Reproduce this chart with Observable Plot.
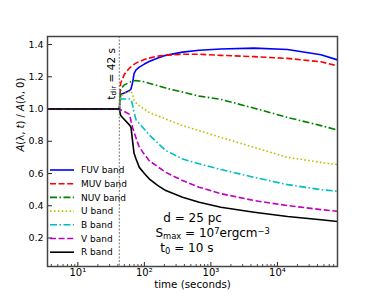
<!DOCTYPE html>
<html><head><meta charset="utf-8">
<script src="https://cdn.jsdelivr.net/npm/d3@7"></script>
<script src="https://cdn.jsdelivr.net/npm/@observablehq/plot@0.6"></script>
<style>body{margin:0;background:#fff;} svg{font-family:"DejaVu Sans",sans-serif;}</style>
</head><body><div id="chart"></div>
<script>
// ---- data ----
const times = [3.5, 42, 44, 50, 60, 63, 67, 70, 75, 84, 100, 118, 160, 210, 375, 667, 1410, 4480, 14200, 45100, 80000];
const fuv   = [1.0, 1.0, 1.09, 1.10, 1.115, 1.124, 1.17, 1.22, 1.243, 1.26, 1.279, 1.295, 1.316, 1.333, 1.353, 1.365, 1.372, 1.378, 1.369, 1.337, 1.305];
const muv   = [1.0, 1.0, 1.16, 1.215, 1.255, 1.262, 1.268, 1.277, 1.285, 1.295, 1.307, 1.316, 1.328, 1.334, 1.34, 1.34, 1.333, 1.325, 1.314, 1.293, 1.268];
const nuv   = [1.0, 1.0, 1.12, 1.15, 1.165, 1.17, 1.173, 1.175, 1.176, 1.174, 1.169, 1.16, 1.145, 1.13, 1.105, 1.08, 1.06, 1.005, 0.948, 0.897, 0.87];
const uBand = [1.0, 1.0, 1.08, 1.095, 1.108, 1.113, 1.085, 1.053, 1.038, 1.02, 1.0, 0.979, 0.957, 0.938, 0.897, 0.866, 0.824, 0.762, 0.70, 0.669, 0.655];
const bBand = [1.0, 1.0, 1.062, 1.062, 1.062, 1.06, 1.02, 0.98, 0.933, 0.91, 0.874, 0.84, 0.788, 0.742, 0.69, 0.66, 0.625, 0.576, 0.531, 0.50, 0.49];
const vBand = [1.0, 1.0, 0.995, 0.985, 0.967, 0.924, 0.88, 0.856, 0.82, 0.762, 0.72, 0.68, 0.641, 0.607, 0.556, 0.515, 0.475, 0.432, 0.401, 0.376, 0.366];
const rBand = [1.0, 1.0, 0.96, 0.935, 0.9, 0.886, 0.79, 0.725, 0.69, 0.638, 0.60, 0.567, 0.525, 0.494, 0.453, 0.422, 0.391, 0.36, 0.333, 0.313, 0.302];
const bands = ["FUV band", "MUV band", "NUV band", "U band", "B band", "V band", "R band"];
const tDir = 42;
const xMajor = [10, 100, 1000, 10000];
const xMinor = [4,5,6,7,8,9,20,30,40,50,60,70,80,90,200,300,400,500,600,700,800,900,2000,3000,4000,5000,6000,7000,8000,9000,20000,30000,40000,50000,60000,70000,80000];
const yTicks = [0.2, 0.4, 0.6, 0.8, 1.0, 1.2, 1.4];

// ---- styles ----
const colors = ["#0000ff", "#ff0000", "#008000", "#bfbf00", "#00bfbf", "#bf00bf", "#000000"];
const dashes = [null, "6,2.6", "7,2.4,1.6,2.4", "1.6,2.3", "7,2.4,1.6,2.4", "6,2.6", null];

const series = [fuv, muv, nuv, uBand, bBand, vBand, rBand];
const rows = bands.flatMap((b, i) => times.map((t, j) => ({band: b, t, v: series[i][j]})));

const W = 374, H = 299, mL = 47, mR = 37, mT = 36, mB = 33;
const fw = W - mL - mR, fh = H - mT - mB;
const sup = {1: "\u00b9", 2: "\u00b2", 3: "\u00b3", 4: "\u2074"};
const yLabel = "A(\u03bb, t) / A(\u03bb, 0)";

const chart = Plot.plot({
  width: W, height: H, marginLeft: mL, marginRight: mR, marginTop: mT, marginBottom: mB,
  style: {fontFamily: "DejaVu Sans", fontSize: "9.5px", background: "white", color: "black", overflow: "visible"},
  x: {type: "log", domain: [3.5, 80000]},
  y: {domain: [0.023, 1.45]},
  marks: [
    ...bands.map((b, i) => Plot.line(rows.filter(d => d.band === b), {
      x: "t", y: "v", stroke: colors[i], strokeWidth: 1.6,
      strokeDasharray: dashes[i] || undefined, strokeLinecap: "butt"
    })),
    Plot.ruleX([tDir], {stroke: "#777", strokeWidth: 1, strokeDasharray: "2,1.5"}),
    Plot.ruleX(xMajor, {insetTop: fh - 4, stroke: "#222", strokeWidth: 1}),
    Plot.ruleX(xMinor, {insetTop: fh - 2, stroke: "#222", strokeWidth: 0.8}),
    Plot.ruleY(yTicks, {insetRight: fw - 5, stroke: "#222", strokeWidth: 1}),
    Plot.axisX(xMajor, {tickSize: 0, tickPadding: 2, tickFormat: d => "10" + sup[Math.round(Math.log10(d))], label: null, fontSize: 10}),
    Plot.axisY(yTicks, {tickSize: 0, tickPadding: 4, tickFormat: d => d.toFixed(1), label: null, fontSize: 9.5}),
    Plot.text(["time (seconds)"], {frameAnchor: "bottom", dy: 21, text: d => d, fontSize: 10.3}),
    Plot.text([yLabel], {frameAnchor: "left", dx: -27, rotate: -90, text: d => d, fontSize: 10}),
    Plot.frame({stroke: "#444", strokeWidth: 1.5})
  ]
});
document.getElementById("chart").appendChild(chart);

const svg = d3.select(chart);
const sx = chart.scale("x"), sy = chart.scale("y");

// italic math letters in y label
svg.selectAll("text").filter(function() { return this.textContent === yLabel; }).each(function() {
  const t = d3.select(this);
  t.text(null);
  const parts = [["A", true], ["(\u03bb, ", false], ["t", true], [") / ", false], ["A", true], ["(\u03bb, 0)", false]];
  parts.forEach(([s, it]) => t.append("tspan").text(s).attr("font-style", it ? "italic" : null));
});

// legend
const lg = svg.append("g").attr("font-size", 9).attr("text-anchor", "start");
bands.forEach((b, i) => {
  const y = 170 + i * 13.7;
  lg.append("line").attr("x1", mL + 3).attr("x2", mL + 27).attr("y1", y).attr("y2", y)
    .attr("stroke", colors[i]).attr("stroke-width", 1.6).attr("stroke-dasharray", dashes[i]);
  lg.append("text").attr("x", mL + 34).attr("y", y).attr("dy", "0.35em").text(b);
});

// annotations
const ann = svg.append("g").attr("font-size", 12).attr("text-anchor", "start");
function addText(x, y, parts) {
  const t = ann.append("text").attr("x", sx.apply(x)).attr("y", sy.apply(y));
  parts.forEach(([s, kind]) => {
    const ts = t.append("tspan").text(s);
    if (kind === "sub") ts.attr("font-size", "70%").attr("baseline-shift", "-20%");
    if (kind === "sup") ts.attr("font-size", "70%").attr("baseline-shift", "40%");
  });
  return t;
}
addText(196, 0.299, [["d = 25 pc"]]);
addText(149, 0.205, [["S"], ["max", "sub"], [" = 10"], ["7", "sup"], ["ergcm"], ["\u22123", "sup"]]);
addText(177, 0.112, [["t"], ["0", "sub"], [" = 10 s"]]);

// t_dir label
const td = svg.append("text").attr("font-size", 10.5).attr("text-anchor", "middle")
  .attr("transform", `translate(${sx.apply(37.3)},${sy.apply(1.215)}) rotate(-90)`);
td.append("tspan").text("t");
td.append("tspan").text("dir").attr("font-size", "70%").attr("baseline-shift", "-20%");
td.append("tspan").text(" = 42 s");
</script>
</body></html>
